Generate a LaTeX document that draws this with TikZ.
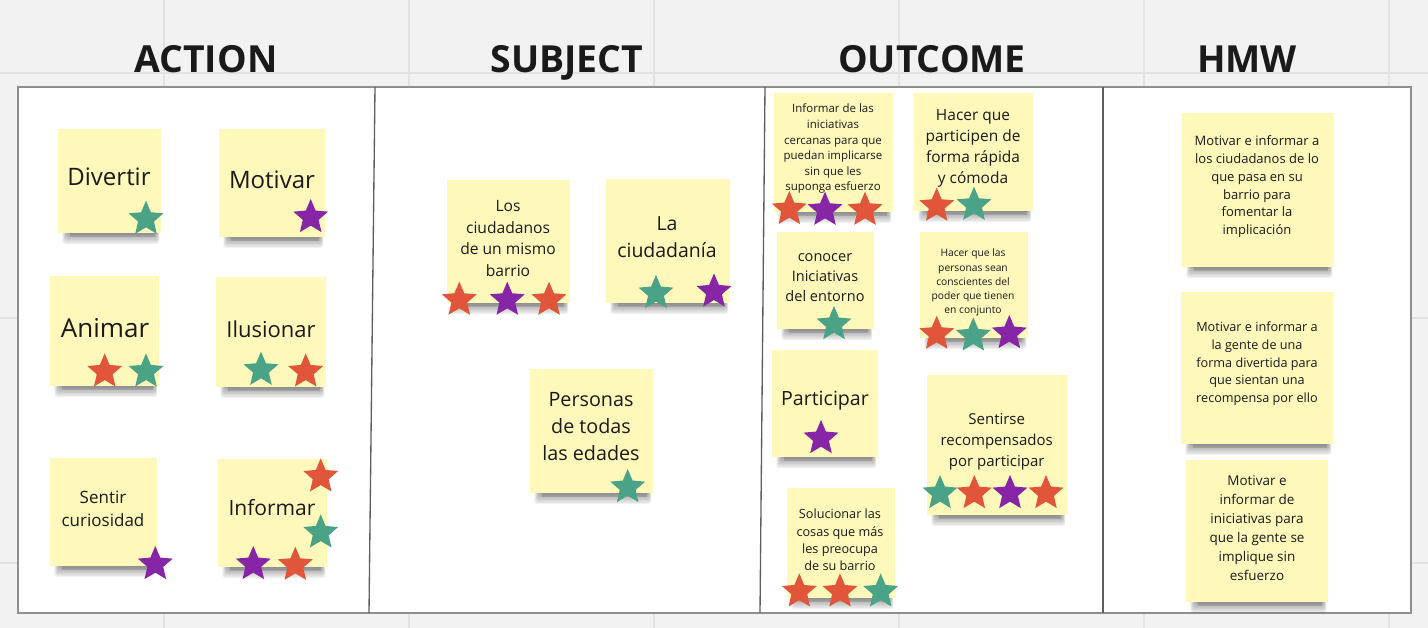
\documentclass[tikz,border=0pt]{standalone}
\usepackage{fontspec}
\setmainfont{Open Sans}
\usetikzlibrary{shapes.geometric}
\definecolor{bg}{HTML}{F2F2F2}
\definecolor{gridc}{HTML}{E2E2E2}
\definecolor{panelb}{HTML}{8E8E8E}
\definecolor{divc}{HTML}{5E5E5E}
\definecolor{notey}{HTML}{FEF8BA}
\definecolor{sred}{HTML}{E1563A}
\definecolor{steal}{HTML}{4AA287}
\definecolor{spurp}{HTML}{8626A6}
\definecolor{ink}{HTML}{1A1A1A}
\tikzset{
  note/.style={fill=notey,draw=none,inner sep=0pt,outer sep=0pt,shape=rectangle},
  ntxt/.style={align=center,text=ink,inner sep=0pt},
  heading/.style={text=ink,inner sep=0pt,anchor=base,font={\fontsize{28}{28}\selectfont\bfseries}},
  starsh/.style={shape=star,star points=5,star point ratio=2.2,minimum size=27.5pt,inner sep=0pt,draw=none},
}
% #1 name, #2 x0, #3 y0, #4 x1, #5 y1 (pixels)
\newcommand\sticky[5]{%
  \foreach \k in {1,...,8}{%
    \fill[black,opacity=0.05,rounded corners=2pt] ({#2+10-\k*0.7},{#5-4}) rectangle ({#4-5+\k*0.4},{#5+\k*1.4});}
  \fill[black,opacity=0.12] ({#2+12},{#5-2}) rectangle ({#4-6},{#5+4});
  \node[note,minimum width={(#4-#2)*0.75pt},minimum height={(#5-#3)*0.75pt}] (#1) at ({(#2+#4)/2},{(#3+#5)/2}) {};
}
% #1 name, #2 x, #3 y, #4 font pt, #5 baselineskip pt, #6 text
\newcommand\ntext[6]{\node[ntxt,font={\fontsize{#4}{#5}\selectfont}] (#1) at (#2,#3) {#6};}
% #1 name, #2 x, #3 y, #4 colour
\newcommand\mystar[4]{\node[starsh,fill=#4] (#1) at (#2,#3) {};}
\begin{document}
\begin{tikzpicture}[x=0.75pt,y=-0.75pt]
\useasboundingbox (0,0) rectangle (1428,628);
\fill[bg] (0,0) rectangle (1428,628);
% grid
\foreach \gx in {164,409,654,899,1144,1389}{\draw[gridc,line width=1pt] (\gx,0) -- (\gx,628);}
\foreach \gy in {318,563}{\draw[gridc,line width=1pt] (0,\gy) -- (1428,\gy);}
\draw[gridc,line width=2pt] (0,73) -- (1428,73);
% panel
\draw[panelb,fill=white,line width=1.2pt] (18,87) rectangle (1411,613);
\draw[divc,line width=1pt] (375,87) -- (369,613);
\draw[divc,line width=1pt] (765,87) -- (760,613);
\draw[divc,line width=1pt] (1103,87) -- (1103,613);
% headings
\node[heading] (hA) at (206,72) {ACTION};
\node[heading] (hS) at (567,72) {SUBJECT};
\node[heading] (hO) at (932,72) {OUTCOME};
\node[heading] (hH) at (1247,72) {HMW};
% notes
\sticky{nDiv}{58}{129}{161}{233}
\sticky{nMot}{219}{129}{325}{237}
\sticky{nAni}{50}{276}{159}{386}
\sticky{nIlu}{216}{277}{326}{387}
\sticky{nSen}{50}{458}{157}{566}
\sticky{nInf}{218}{459}{327}{567}
\sticky{nLos}{447}{180}{570}{303}
\sticky{nLaC}{606}{179}{730}{303}
\sticky{nPer}{530}{369}{653}{493}
\sticky{nOa}{774}{93}{893}{212}
\sticky{nOb}{914}{93}{1033}{211}
\sticky{nOc}{777}{232}{874}{329}
\sticky{nOd}{920}{232}{1028}{338}
\sticky{nOe}{772}{350}{878}{457}
\sticky{nOf}{927}{375}{1067}{515}
\sticky{nOg}{787}{488}{895}{598}
\sticky{nH1}{1182}{113}{1334}{267}
\sticky{nH2}{1181}{292}{1333}{444}
\sticky{nH3}{1186}{460}{1328}{602}
% texts
\ntext{tDiv}{109}{177}{18}{21}{Divertir}
\ntext{tMot}{272}{180}{18}{21}{Motivar}
\ntext{tAni}{105}{328}{19.5}{23}{Animar}
\ntext{tIlu}{271}{329}{16.5}{20}{Ilusionar}
\ntext{tSen}{103}{508.5}{12.75}{17.25}{Sentir\\curiosidad}
\ntext{tInf}{272}{508}{15.75}{19}{Informar}
\ntext{tLos}{508}{238.5}{11.7}{16.1}{Los\\ciudadanos\\de un mismo\\barrio}
\ntext{tLaC}{667}{237.5}{14.6}{20.25}{La\\ciudadanía}
\ntext{tPer}{591}{427}{14.8}{20.25}{Personas\\de todas\\las edades}
\ntext{tOa}{833}{148.8}{8.6}{11.7}{Informar de las\\iniciativas\\cercanas para que\\puedan implicarse\\sin que les\\suponga esfuerzo}
\ntext{tOb}{973}{148.3}{11.6}{15.8}{Hacer que\\participen de\\forma rápida\\y cómoda}
\ntext{tOc}{825}{277.3}{10.9}{15}{conocer\\Iniciativas\\del entorno}
\ntext{tOd}{973}{282.7}{7.7}{10.7}{Hacer que las\\personas sean\\conscientes del\\poder que tienen\\en conjunto}
\ntext{tOe}{825}{401}{14.7}{17}{Participar}
\ntext{tOf}{996.7}{441.7}{11.25}{15.5}{Sentirse\\recompensados\\por participar}
\ntext{tOg}{840}{540}{9.5}{12.9}{Solucionar las\\cosas que más\\les preocupa\\de su barrio}
\ntext{tH1}{1257}{186.7}{9.75}{13.4}{Motivar e informar a\\los ciudadanos de lo\\que pasa en su\\barrio para\\fomentar la\\implicación}
\ntext{tH2}{1257}{363.8}{9.5}{13.4}{Motivar e informar a\\la gente de una\\forma divertida para\\que sientan una\\recompensa por ello}
\ntext{tH3}{1257}{528.2}{10.1}{14.3}{Motivar e\\informar de\\iniciativas para\\que la gente se\\implique sin\\esfuerzo}
% stars
\mystar{s1}{146}{219}{steal}
\mystar{s2}{310.7}{217.3}{spurp}
\mystar{s3}{104.7}{371.7}{sred}
\mystar{s4}{146}{371.7}{steal}
\mystar{s5}{261}{370}{steal}
\mystar{s6}{305.7}{371.7}{sred}
\mystar{s7}{155.3}{564.3}{spurp}
\mystar{s8}{320.7}{476.7}{sred}
\mystar{s9}{320.7}{532.7}{steal}
\mystar{s10}{253.3}{564.3}{spurp}
\mystar{s11}{295.3}{565}{sred}
\mystar{s12}{459.3}{300}{sred}
\mystar{s13}{507.3}{300}{spurp}
\mystar{s14}{549}{300}{sred}
\mystar{s15}{656}{293.3}{steal}
\mystar{s16}{714}{291.7}{spurp}
\mystar{s17}{627.7}{487.3}{steal}
\mystar{s18}{789.3}{209.3}{sred}
\mystar{s19}{825}{210}{spurp}
\mystar{s20}{865}{210}{sred}
\mystar{s21}{936.7}{206}{sred}
\mystar{s22}{974}{205}{steal}
\mystar{s23}{834}{324.3}{steal}
\mystar{s24}{936.7}{334}{sred}
\mystar{s25}{973.3}{335.7}{steal}
\mystar{s26}{1009.3}{333.3}{spurp}
\mystar{s27}{821}{438.3}{spurp}
\mystar{s28}{940}{493.3}{steal}
\mystar{s29}{974.3}{493.3}{sred}
\mystar{s30}{1010}{493.3}{spurp}
\mystar{s31}{1046}{493.3}{sred}
\mystar{s32}{799.3}{591.7}{sred}
\mystar{s33}{840}{591.7}{sred}
\mystar{s34}{880.7}{591.7}{steal}
\end{tikzpicture}
\end{document}
